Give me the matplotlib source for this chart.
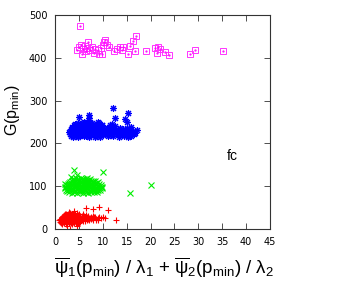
import matplotlib.pyplot as plt

plt.rcParams['font.family'] = ['DejaVu Sans']
plt.rcParams['mathtext.fontset'] = 'custom'
plt.rcParams['mathtext.rm'] = 'Liberation Sans'
plt.rcParams['mathtext.it'] = 'Liberation Sans'

# red (+)
red_x = [1.5, 2.2, 2.9, 3.6, 4.3, 5.1,
         1.2, 1.9, 2.6, 3.3, 4.0, 4.8,
         1.0, 1.7, 2.4, 3.1, 3.8, 4.5, 5.3, 6.2,
         1.2, 2.0, 2.8, 3.5, 4.2, 5.0, 5.8,
         0.8, 1.4, 2.0, 2.7, 3.3, 4.0, 4.7, 5.5, 6.3, 7.2, 8.0, 9.1,
         1.2, 1.7, 2.4, 3.0, 3.7, 4.4, 5.1, 5.9, 6.7, 7.6, 8.5,
         1.1, 1.8, 2.5, 3.2, 3.9, 4.6, 5.4, 6.1, 6.9, 7.7, 8.6, 9.6, 10.4,
         1.4, 2.1, 2.8, 3.5, 4.2, 5.0, 5.8, 6.5, 7.3, 8.1, 9.0, 10.0,
         1.5, 2.2, 2.9, 3.6, 4.3, 5.0, 5.8, 6.6, 7.5, 8.3, 9.2,
         1.7, 2.4, 3.1, 3.8, 4.6, 5.3, 6.1, 7.0, 7.9,
         1.9, 2.6, 3.3, 4.0, 4.8, 5.6, 6.5,
         2.1, 2.8, 3.5, 4.2, 5.0, 5.9,
         2.4, 3.1, 3.8, 4.5,
         3.0, 4.0, 6.4, 8.0, 9.2, 11.0, 12.7, 3.1, 2.5, 4.6]
red_y = [12, 11, 13, 12, 14, 13,
         14, 14, 14, 15, 14, 15,
         17, 16, 15, 17, 16, 17, 16, 18,
         18, 18, 19, 18, 19, 18, 19,
         21, 20, 19, 21, 20, 22, 20, 21, 20, 22, 21, 20,
         23, 22, 22, 23, 22, 23, 22, 23, 22, 23, 22,
         24, 25, 23, 25, 24, 26, 24, 25, 23, 26, 24, 25, 26,
         26, 27, 26, 27, 26, 27, 26, 27, 26, 27, 26, 28,
         28, 29, 27, 29, 28, 30, 28, 29, 27, 29, 28,
         31, 30, 31, 30, 31, 30, 31, 30, 31,
         32, 33, 31, 33, 32, 31, 33,
         35, 34, 34, 35, 34, 35,
         36, 37, 35, 38,
         40, 41, 49, 47, 52, 44, 21, 1, 6, 8]

# green (x)
green_x = [3.5, 4.6, 5.8, 7.0, 8.2,
           3.0, 4.0, 5.2, 6.4, 7.6, 8.8,
           2.6, 3.4, 4.2, 5.0, 5.8, 6.6, 7.4, 8.3, 9.1,
           2.4, 3.0, 3.8, 4.6, 5.4, 6.2, 7.0, 7.8, 8.7, 9.5,
           2.1, 2.9, 3.7, 4.5, 5.3, 6.1, 6.9, 7.7, 8.5, 9.4,
           2.0, 2.7, 3.5, 4.3, 5.1, 5.9, 6.7, 7.5, 8.3, 9.1, 9.8,
           2.3, 3.1, 3.9, 4.7, 5.5, 6.3, 7.1, 7.9, 8.7, 9.6,
           2.5, 3.3, 4.1, 4.9, 5.7, 6.5, 7.3, 8.1, 8.9, 9.7,
           2.7, 3.5, 4.3, 5.1, 5.9, 6.7, 7.5, 8.3, 9.2,
           3.0, 3.8, 4.6, 5.4, 6.2, 7.0, 7.8, 8.6,
           3.2, 4.0, 4.8, 5.6, 6.4, 7.2, 8.0, 8.9,
           3.5, 4.3, 5.1, 5.9, 6.7, 7.5, 8.4,
           3.8, 4.6, 5.4, 6.2, 7.0, 7.9,
           4.0, 4.9, 5.8, 6.5, 7.4,
           4.3, 5.5, 6.8,
           4.0, 4.5, 3.3, 10.0, 15.7, 20.0, 2.0, 9.8]
green_y = [84, 83, 85, 84, 86,
           86, 87, 86, 87, 86, 87,
           89, 90, 88, 90, 89, 88, 90, 89, 91,
           92, 92, 91, 92, 91, 92, 91, 92, 91, 92,
           95, 94, 93, 95, 94, 93, 95, 94, 93, 95,
           97, 97, 96, 97, 96, 97, 96, 97, 96, 97, 97,
           99, 100, 98, 100, 99, 98, 100, 99, 101, 99,
           102, 102, 101, 102, 101, 102, 101, 102, 101, 103,
           104, 105, 103, 105, 104, 103, 105, 104, 106,
           107, 107, 106, 107, 106, 107, 106, 107,
           109, 110, 108, 110, 109, 108, 110, 109,
           112, 112, 111, 112, 111, 112, 111,
           114, 115, 113, 115, 114, 113,
           116, 116, 116, 116, 117,
           118, 119, 118,
           138, 126, 122, 133, 84, 103, 104, 96]

# blue (*)
blue_x = [3.8, 4.9, 6.0, 7.1, 8.3, 9.5, 11.0, 13.4, 15.2,
          3.3, 4.3, 5.4, 6.5, 7.6, 8.8, 10.0, 12.2, 14.4, 16.0,
          3.2, 4.2, 5.2, 6.2, 7.2, 8.2, 9.3, 10.5, 11.8, 12.9, 14.1, 15.6, 16.5,
          3.6, 4.6, 5.6, 6.6, 7.6, 8.6, 9.7, 10.9, 12.0, 13.2, 14.5, 15.4, 16.7,
          3.0, 4.0, 5.0, 6.0, 7.0, 8.0, 9.0, 10.0, 11.2, 12.3, 13.5, 14.7, 15.9, 17.1,
          3.2, 4.2, 5.2, 6.2, 7.2, 8.2, 9.2, 10.3, 11.5, 12.8, 14.0, 15.2, 16.4,
          3.4, 4.4, 5.4, 6.4, 7.4, 8.4, 9.4, 10.6, 11.9, 13.1, 14.3,
          3.5, 4.5, 5.5, 6.5, 7.5, 8.5, 9.5, 10.9, 12.2, 13.7, 15.0,
          3.6, 4.6, 5.6, 6.6, 7.6, 8.6, 9.6, 11.3, 12.5, 16.0,
          3.9, 4.9, 5.9, 6.9, 7.9, 8.9, 9.9, 11.6,
          4.2, 5.3, 6.4, 7.5, 8.7, 9.8, 12.0,
          4.8, 5.8, 6.8, 7.8, 9.3,
          6.0, 7.3, 8.9,
          12.1, 15.3, 12.6, 14.6, 5.0, 7.1, 7.1, 15.0]
blue_y = [216, 214, 217, 215, 216, 214, 217, 215, 216,
          218, 218, 219, 218, 219, 218, 219, 218, 218, 218,
          222, 221, 220, 222, 221, 220, 222, 221, 220, 222, 221, 220, 222,
          224, 225, 224, 225, 224, 225, 224, 225, 224, 225, 224, 225, 225,
          227, 228, 226, 228, 227, 226, 228, 227, 229, 226, 228, 227, 229, 231,
          230, 231, 230, 231, 230, 231, 230, 231, 230, 231, 230, 231, 230,
          233, 234, 232, 234, 233, 232, 234, 233, 235, 232, 234,
          236, 237, 236, 237, 236, 237, 236, 237, 236, 237, 236,
          239, 240, 238, 240, 239, 238, 240, 239, 241, 238,
          242, 243, 242, 243, 242, 243, 242, 243,
          245, 246, 244, 246, 245, 244, 246,
          248, 248, 249, 248, 248,
          250, 251, 249,
          283, 271, 260, 257, 261, 266, 259, 250]

# magenta (boxes)
mag_x = [5.2, 4.6, 5.0, 5.4, 5.6, 5.9, 6.2, 6.5, 6.8, 7.0, 7.3, 7.7, 8.1, 8.4,
         9.0, 9.3, 9.6, 9.9, 10.1, 10.3, 10.5, 10.8, 11.2, 12.3, 13.0, 13.7,
         14.0, 14.2, 15.3, 15.7, 16.3, 16.7, 17.0, 19.0, 21.0, 21.3, 21.6,
         22.0, 23.0, 23.9, 28.2, 29.3, 35.1]
mag_y = [474, 418, 425, 430, 408, 420, 428, 415, 422, 438, 418, 425, 412, 420,
         418, 410, 422, 410, 430, 436, 441, 430, 426, 417, 420, 425,
         418, 426, 409, 427, 440, 415, 451, 415, 422, 412, 425,
         420, 414, 406, 409, 418, 415]

fig = plt.figure(figsize=(3.51, 3.00), dpi=100)
ax = fig.add_axes([55/351, 71/300, 215/351, 214/300])

ax.plot(red_x, red_y, '+', color='#ff0000', ms=4.5, mew=0.8)
ax.plot(green_x, green_y, 'x', color='#00ee00', ms=4.5, mew=0.8)
ax.plot(blue_x, blue_y, marker=(8, 2, 0), ls='none', color='#0000ff', ms=5, mew=0.8)
ax.plot(mag_x, mag_y, 's', mfc='none', mec='#ff33ff', ms=4, mew=0.7)
ax.plot(mag_x, mag_y, '.', color='#ff00ff', ms=1.2)

ax.set_xlim(0, 45)
ax.set_ylim(0, 500)
ax.set_xticks(range(0, 46, 5))
ax.set_yticks(range(0, 501, 100))
ax.tick_params(direction='in', length=4, width=0.6, top=True, right=True,
               labelsize=7, pad=5.5, color='#333333')
for s in ax.spines.values():
    s.set_linewidth(0.8)
    s.set_color('#333333')

ax.text(36, 170, 'fc', fontsize=10, family='Liberation Sans', va='center')

fig.text(0.035, 0.633, r'G(p$_{\mathrm{min}}$)', rotation=90, fontsize=11.5,
         family='Liberation Sans', ha='center', va='center')
fig.text(0.467, 0.107,
         r'$\overline{\psi}_1$(p$_{\mathrm{min}}$) / $\lambda_1$ + $\overline{\psi}_2$(p$_{\mathrm{min}}$) / $\lambda_2$',
         fontsize=13.5, family='Liberation Sans', ha='center', va='center')

fig.savefig('out.png', dpi=100)
